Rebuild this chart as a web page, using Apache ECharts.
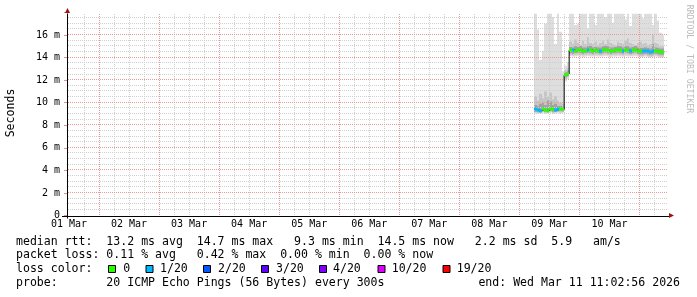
<!DOCTYPE html>
<html><head><meta charset="utf-8">
<script src="https://cdn.jsdelivr.net/npm/echarts@6/dist/echarts.min.js"></script>
<style>html,body{margin:0;padding:0;background:#fff}#c{width:697px;height:297px}</style>
</head><body><div id="c"></div>
<script>
// ---- data ----
const dayLabels = ['01 Mar','02 Mar','03 Mar','04 Mar','05 Mar','06 Mar','07 Mar','08 Mar','09 Mar','10 Mar'];
const dayHours = [0,24,48,72,96,120,144,168,192,216];
const majorGridHours = [12,36,60,84,108,132,156,180,204,228];
const yTickValues = [0,2,4,6,8,10,12,14,16];
const yTickLabels = ['0','2 m','4 m','6 m','8 m','10 m','12 m','14 m','16 m'];
const SLOT_HOURS = 1;
const slotStart = [185.9,186.9,187.9,188.9,189.9,190.9,191.9,192.9,193.9,194.9,195.9,196.9,
  197.9,198.9,
  199.9,200.9,201.9,202.9,203.9,204.9,205.9,206.9,207.9,208.9,209.9,210.9,211.9,212.9,213.9,214.9,215.9,216.9,217.9,218.9,
  219.9,220.9,221.9,222.9,223.9,224.9,225.9,226.9,227.9,228.9,229.9,230.9,231.9,232.9,233.9,234.9,235.9,236.9];
const medianMs = [9.4,9.35,9.3,9.4,9.35,9.3,9.45,9.4,9.35,9.4,9.45,9.4,
  12.45,12.55,
  14.65,14.7,14.6,14.65,14.7,14.6,14.6,14.65,14.7,14.6,
  14.65,14.6,14.6,14.65,14.7,14.65,14.6,14.6,14.65,14.7,
  14.65,14.6,14.7,14.65,14.6,14.65,14.7,14.6,14.55,14.55,
  14.6,14.55,14.5,14.55,14.6,14.55,14.5,14.5];
const lossIndex = [1,1,1,0,0,0,0,0,1,1,0,0,
  0,0,
  0,1,0,0,0,0,0,1,0,0,
  0,0,1,0,0,0,0,0,0,0,
  0,1,0,0,1,0,0,0,0,1,
  1,1,1,1,0,0,0,0];
const smokeMin = [9.05,9.0,9.05,9.1,9.0,9.05,9.1,9.0,9.05,9.1,9.05,9.1,
  11.9,12.1,
  14.15,14.1,14.1,14.15,14.1,14.05,14.1,14.15,14.1,14.1,
  14.15,14.1,14.1,14.1,14.15,14.1,14.05,14.1,14.1,14.15,
  14.1,14.1,14.15,14.1,14.1,14.1,14.15,14.1,14.05,14.05,
  14.1,14.05,14.0,14.05,14.1,14.05,14.0,14.0];
const smokeMax = [17.9,16.5,13.8,14.6,17.0,17.9,17.9,17.6,15.2,17.9,16.3,12.8,
  13.3,13.6,
  17.9,17.9,16.9,17.0,17.9,17.9,17.9,16.6,17.9,17.9,
  16.9,17.9,17.9,17.9,17.6,17.9,17.9,17.1,17.9,17.9,
  17.9,17.9,17.4,17.9,16.8,17.9,17.9,17.9,17.9,17.5,
  17.9,17.9,17.9,16.9,17.9,17.3,16.2,16.0];
const innerLo = [9.15,9.1,9.15,9.2,9.1,9.15,9.2,9.1,9.15,9.2,9.15,9.2,
  12.1,12.25,
  14.25,14.2,14.25,14.3,14.25,14.2,14.25,14.3,14.25,14.2,
  14.25,14.25,14.2,14.25,14.3,14.25,14.2,14.25,14.25,14.3,
  14.25,14.2,14.3,14.25,14.2,14.25,14.3,14.2,14.15,14.15,
  14.2,14.15,14.1,14.15,14.2,14.15,14.1,14.1];
const innerHi = [10.6,10.2,10.8,10.4,11.0,10.5,10.9,10.3,10.6,10.2,10.0,9.9,
  12.9,13.1,
  15.4,15.2,15.6,15.3,15.1,15.5,15.2,15.8,15.3,15.2,
  15.4,15.1,15.3,15.5,15.2,15.6,15.3,15.2,15.1,15.4,
  15.3,15.2,15.5,15.7,15.3,15.2,15.1,15.3,15.4,15.2,
  15.3,15.1,15.2,16.0,15.3,15.2,15.0,15.0];
const coreLo = [9.2,9.2,9.2,9.25,9.2,9.2,9.3,9.2,9.2,9.25,9.3,9.25,
  12.25,12.4,
  14.4,14.35,14.4,14.45,14.4,14.35,14.4,14.45,14.4,14.35,
  14.4,14.4,14.35,14.4,14.45,14.4,14.35,14.4,14.4,14.45,
  14.4,14.35,14.45,14.4,14.35,14.4,14.45,14.35,14.3,14.3,
  14.35,14.3,14.25,14.3,14.35,14.3,14.25,14.25];
const coreHi = [9.8,9.7,9.9,10.0,9.8,10.2,10.1,9.8,9.9,9.7,9.7,9.6,
  12.7,12.8,
  14.95,14.9,15.0,14.95,15.05,14.9,14.9,15.0,15.05,14.9,
  14.95,14.9,14.9,15.0,15.05,15.0,14.9,14.9,14.95,15.05,
  15.0,14.9,15.05,15.0,14.9,14.95,15.05,14.9,14.85,14.85,
  14.9,14.85,14.8,15.2,14.9,14.85,14.8,14.8];
const lossLabels = ['0','1/20','2/20','3/20','4/20','10/20','19/20'];
const lossColors = ['#26ff00','#00b8ff','#0059ff','#5e00ff','#7e00ff','#dd00ff','#ff0000'];
const statLines = [
  'median rtt:  13.2 ms avg  14.7 ms max   9.3 ms min  14.5 ms now   2.2 ms sd  5.9   am/s',
  'packet loss: 0.11 % avg   0.42 % max  0.00 % min  0.00 % now',
  'loss color:',
  'probe:       20 ICMP Echo Pings (56 Bytes) every 300s'
];
const endText = 'end: Wed Mar 11 11:02:56 2026';
const yTitle = 'Seconds';
const watermark = 'RRDTOOL / TOBI OETIKER';

// ---- layout ----
const MONO = '"DejaVu Sans Mono", monospace';
const TXT = '11.55px ' + MONO;
const AXIS_X = 67;
const G = {left: 69, right: 29, top: 12.5, bottom: 81.5};
const X_MIN = 0, X_MAX = 239.4, Y_MIN = 0, Y_MAX = 18;
const MINOR_H = 6, MINOR_MS = 0.5;
const GRID_GREY = '#cfcfcf', GRID_RED = '#ee9999';

// grid line positions (grid spec, not data)
const vMinor = [], hGrid = [];
for (let h = MINOR_H; h < X_MAX; h += MINOR_H) if (majorGridHours.indexOf(h) < 0) vMinor.push(h);
for (let k = 1; k * MINOR_MS < Y_MAX; k++) { const v = k * MINOR_MS; hGrid.push([v, yTickValues.indexOf(v) >= 0 ? GRID_RED : GRID_GREY]); }

const chart = echarts.init(document.getElementById('c'), null, {renderer: 'canvas'});

const smokeData = slotStart.map((t, i) => [t, t + SLOT_HOURS, smokeMin[i], smokeMax[i], innerLo[i], innerHi[i], coreLo[i], coreHi[i]]);
const medData = slotStart.map((t, i) => [t, t + SLOT_HOURS, medianMs[i], lossIndex[i]]);
const stepData = slotStart.map((t, i) => [t, medianMs[i]]);
stepData.push([slotStart[slotStart.length - 1] + SLOT_HOURS, medianMs[medianMs.length - 1]]);

const layers = [[2, 3, '#dedede'], [4, 5, '#c6c6c6'], [6, 7, '#a2a2a2']];

const graphics = [];
graphics.push({type: 'text', x: 11, y: 113, rotation: Math.PI / 2,
  style: {text: yTitle, font: TXT, fill: '#000', align: 'center', verticalAlign: 'middle'}});
graphics.push({type: 'text', x: 689, y: 59, rotation: -Math.PI / 2,
  style: {text: watermark, font: '8.2px ' + MONO, fill: '#bbbbbb', align: 'center', verticalAlign: 'middle'}});
const lineY = [241.7, 255.2, 269.0, 282.7];
statLines.forEach((s, i) => graphics.push({type: 'text', x: 16, y: lineY[i],
  style: {text: s, font: TXT, fill: '#000', align: 'left', verticalAlign: 'middle'}}));
graphics.push({type: 'text', x: 680, y: lineY[3],
  style: {text: endText, font: TXT, fill: '#000', align: 'right', verticalAlign: 'middle'}});
const boxX = [108.5, 146, 203.5, 261.5, 319.5, 378, 443];
const labX = [123.3, 160, 218, 276, 333, 391.7, 456.7];
lossLabels.forEach((lab, i) => {
  graphics.push({type: 'rect', shape: {x: boxX[i], y: 265.5, width: 7, height: 7},
    style: {fill: lossColors[i], stroke: '#000', lineWidth: 1}});
  graphics.push({type: 'text', x: labX[i], y: lineY[2],
    style: {text: lab, font: TXT, fill: '#000', align: 'left', verticalAlign: 'middle'}});
});
const x1 = 697 - G.right, yb = 297 - G.bottom, yt = G.top;
graphics.push({type: 'line', shape: {x1: AXIS_X - 5, y1: Math.round(yb) + 0.5, x2: x1 + 2, y2: Math.round(yb) + 0.5}, style: {stroke: '#000', lineWidth: 1}, z: 10});
graphics.push({type: 'line', shape: {x1: AXIS_X + 0.5, y1: yb + 3, x2: AXIS_X + 0.5, y2: yt + 1}, style: {stroke: '#000', lineWidth: 1}, z: 10});
graphics.push({type: 'polygon', shape: {points: [[x1 + 1, yb - 2.5], [x1 + 6, yb], [x1 + 1, yb + 2.5]]}, style: {fill: '#a01010'}, z: 10});
graphics.push({type: 'polygon', shape: {points: [[AXIS_X - 2, yt + 0.5], [AXIS_X + 0.5, yt - 4.5], [AXIS_X + 3, yt + 0.5]]}, style: {fill: '#a01010'}, z: 10});

// vertical dotted grid lines, dash boundaries on whole pixels so the dots stay crisp
const vLineSeries = (values, color, z) => ({
  type: 'custom', z, silent: true, clip: false,
  encode: {x: 0, y: 1}, data: values.map(h => [h, 0]),
  renderItem: (params, api) => {
    const cs = params.coordSys;
    const x = Math.round(api.coord([api.value(0), 0])[0]) + 0.5;
    return {type: 'line', shape: {x1: x, y1: Math.floor(cs.y + cs.height), x2: x, y2: Math.ceil(cs.y)},
      style: {stroke: color, lineWidth: 1, lineDash: [1, 1]}};
  }
});

chart.setOption({
  backgroundColor: '#fff',
  animation: false,
  grid: {left: G.left, right: G.right, top: G.top, bottom: G.bottom, containLabel: false},
  xAxis: {
    type: 'value', min: X_MIN, max: X_MAX, interval: 24,
    axisLine: {show: false, onZero: false}, axisTick: {show: false}, splitLine: {show: false},
    axisLabel: {
      margin: 4, color: '#000', fontFamily: MONO, fontSize: 10,
      formatter: v => { const i = dayHours.indexOf(Math.round(v * 1000) / 1000); return i >= 0 ? dayLabels[i] : ''; }
    }
  },
  yAxis: {
    type: 'value', min: Y_MIN, max: Y_MAX, interval: 2, offset: G.left - AXIS_X,
    axisLine: {show: false, onZero: false}, splitLine: {show: false},
    axisTick: {show: true, length: 3, lineStyle: {color: '#e09090'}},
    axisLabel: {
      margin: 7, color: '#000', fontFamily: MONO, fontSize: 10,
      formatter: v => { const i = yTickValues.indexOf(Math.round(v * 1000) / 1000); return i >= 0 ? yTickLabels[i] : ''; }
    }
  },
  series: [
    { // smoke
      type: 'custom', z: 1, silent: true, clip: true,
      encode: {x: [0, 1], y: [2, 3, 4, 5, 6, 7]},
      data: smokeData,
      renderItem: (params, api) => {
        const t0 = api.value(0), t1 = api.value(1);
        const children = layers.map(([lo, hi, col]) => {
          const a = api.coord([t0, api.value(hi)]);
          const b = api.coord([t1, api.value(lo)]);
          const xa = Math.round(a[0]), xb = Math.round(b[0]);
          return {type: 'rect', shape: {x: xa, y: a[1], width: xb - xa, height: b[1] - a[1]}, style: {fill: col}};
        });
        return {type: 'group', children};
      }
    },
    vLineSeries(vMinor, GRID_GREY, 3),
    vLineSeries(majorGridHours, GRID_RED, 4),
    { // horizontal grid lines
      type: 'custom', z: 3, silent: true, clip: false,
      encode: {y: 0}, data: hGrid.map(d => [d[0]]),
      renderItem: (params, api) => {
        const cs = params.coordSys;
        const y = Math.round(api.coord([0, api.value(0)])[1]) - 0.5;
        return {type: 'line', shape: {x1: AXIS_X + 1, y1: y, x2: cs.x + cs.width, y2: y},
          style: {stroke: hGrid[params.dataIndex][1], lineWidth: 1, lineDash: [1, 1]}};
      }
    },
    { // median connector
      type: 'line', step: 'end', z: 6, silent: true, symbol: 'none',
      data: stepData, lineStyle: {color: '#000', width: 1}
    },
    { // median coloured by loss
      type: 'custom', z: 7, silent: true, clip: true,
      encode: {x: [0, 1], y: 2},
      data: medData,
      renderItem: (params, api) => {
        const a = api.coord([api.value(0), api.value(2)]);
        const b = api.coord([api.value(1), api.value(2)]);
        const xa = Math.round(a[0]), xb = Math.round(b[0]);
        return {type: 'rect', shape: {x: xa, y: Math.round(a[1]) - 1.5, width: xb - xa, height: 3},
          style: {fill: lossColors[api.value(3)]}};
      }
    }
  ],
  graphic: graphics
});
</script></body></html>
